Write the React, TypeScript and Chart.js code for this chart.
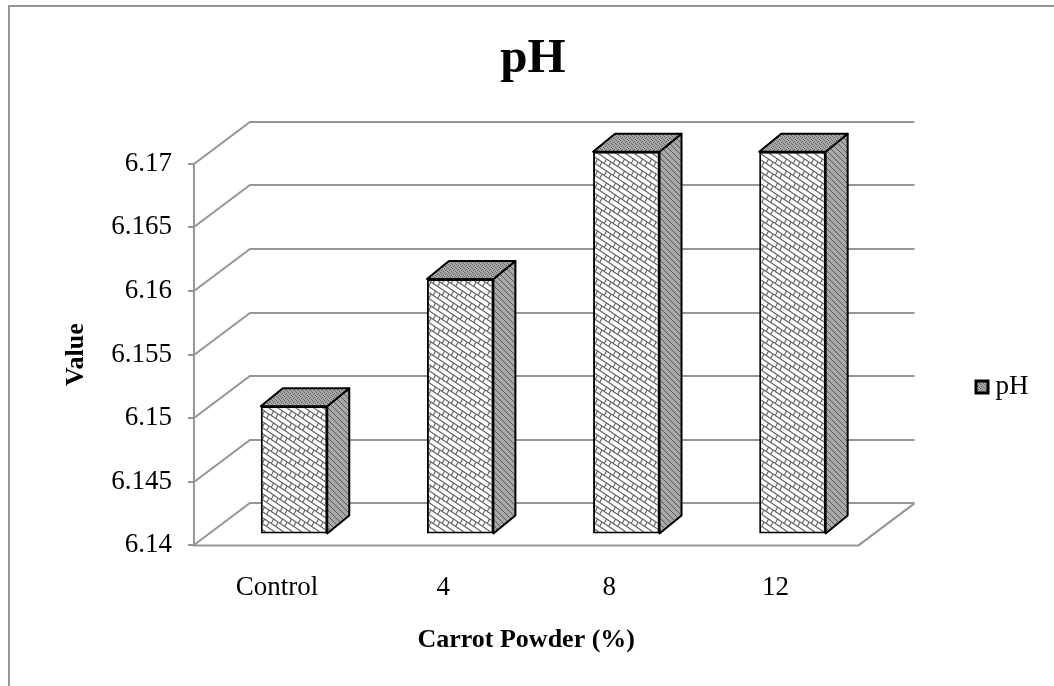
import React, { useEffect, useRef } from "react";
import { Chart, registerables } from "chart.js";

Chart.register(...registerables);

const titleText = "pH";
const categories = ["Control", "4", "8", "12"];
const seriesName = "pH";
const values = [6.15, 6.16, 6.17, 6.17];
const yMin = 6.14;
const yMax = 6.17;
const yStep = 0.005;
const xTitle = "Carrot Powder (%)";
const yTitle = "Value";

const FONT = '"Liberation Serif"';
const GRID = "#969696";
const WALL_DX = 56;
const WALL_DY = -42;
const BAR_SHIFT_X = 17;
const BAR_SHIFT_Y = -12;
const BAR_DX = 22;
const BAR_DY = -18;
const LEGEND_X = 975;
const LEGEND_Y = 387;
const TITLE_X = 533;

function brickPattern(): CanvasPattern {
  const c = document.createElement("canvas");
  c.width = 9;
  c.height = 12;
  const g = c.getContext("2d")!;
  g.fillStyle = "#ffffff";
  g.fillRect(0, 0, 9, 12);
  g.strokeStyle = "#666666";
  g.lineWidth = 1.2;
  for (const ox of [-9, 0, 9]) {
    for (const oy of [-12, 0, 12]) {
      g.beginPath();
      g.moveTo(ox, oy);
      g.lineTo(ox + 9, oy + 6);
      g.moveTo(ox, oy + 6);
      g.lineTo(ox + 9, oy + 12);
      g.moveTo(ox + 2.25, oy + 7.5);
      g.lineTo(ox + 4.5, oy + 3);
      g.moveTo(ox + 6.75, oy + 10.5);
      g.lineTo(ox + 9, oy + 6);
      g.stroke();
    }
  }
  return g.createPattern(c, "repeat")!;
}

function sidePattern(): CanvasPattern {
  const c = document.createElement("canvas");
  c.width = 6;
  c.height = 6;
  const g = c.getContext("2d")!;
  g.fillStyle = "#a8a8a8";
  g.fillRect(0, 0, 6, 6);
  g.strokeStyle = "#5a5a5a";
  g.lineWidth = 1;
  g.beginPath();
  g.moveTo(-1, 1);
  g.lineTo(5, 7);
  g.moveTo(2, -2);
  g.lineTo(8, 4);
  g.stroke();
  return g.createPattern(c, "repeat")!;
}

function topPattern(): CanvasPattern {
  const c = document.createElement("canvas");
  c.width = 4;
  c.height = 4;
  const g = c.getContext("2d")!;
  g.fillStyle = "#a8a8a8";
  g.fillRect(0, 0, 4, 4);
  g.fillStyle = "#626262";
  g.fillRect(0, 0, 1, 1);
  g.fillRect(2, 1, 1, 1);
  g.fillRect(1, 2, 1, 1);
  g.fillRect(3, 3, 1, 1);
  return g.createPattern(c, "repeat")!;
}

function poly(ctx: CanvasRenderingContext2D, pts: number[][], fill: any) {
  ctx.beginPath();
  pts.forEach((p, i) => (i ? ctx.lineTo(p[0], p[1]) : ctx.moveTo(p[0], p[1])));
  ctx.closePath();
  ctx.fillStyle = fill;
  ctx.fill();
  ctx.strokeStyle = "#000000";
  ctx.lineWidth = 2;
  ctx.lineJoin = "round";
  ctx.stroke();
}

const pseudo3d = {
  id: "pseudo3d",
  afterLayout(chart: any) {
    const l = chart.legend;
    if (l) {
      const dx = LEGEND_X - l.options.labels.padding - l.left;
      const dy = LEGEND_Y - (l.top + l.bottom) / 2;
      l.left += dx;
      l.right += dx;
      l.top += dy;
      l.bottom += dy;
    }
    const t = chart.titleBlock;
    if (t) {
      const dx = TITLE_X - (t.left + t.right) / 2;
      t.left += dx;
      t.right += dx;
    }
  },
  beforeDraw(chart: any) {
    const { ctx, canvas } = chart;
    ctx.save();
    ctx.strokeStyle = GRID;
    ctx.lineWidth = 2;
    ctx.beginPath();
    ctx.moveTo(9, canvas.height + 4);
    ctx.lineTo(9, 6);
    ctx.lineTo(canvas.width + 4, 6);
    ctx.stroke();
    ctx.restore();
  },
  beforeDatasetsDraw(chart: any) {
    const { ctx, chartArea, scales } = chart;
    const { left, right, bottom, top } = chartArea;
    ctx.save();
    ctx.strokeStyle = GRID;
    ctx.lineWidth = 2;
    ctx.beginPath();
    for (const t of scales.y.ticks) {
      const y = Math.round(scales.y.getPixelForValue(t.value));
      ctx.moveTo(left - 6, y);
      ctx.lineTo(left, y);
      ctx.lineTo(left + WALL_DX, y + WALL_DY);
      ctx.lineTo(right + WALL_DX, y + WALL_DY);
    }
    ctx.moveTo(left, top);
    ctx.lineTo(left, bottom);
    ctx.lineTo(right, bottom);
    ctx.lineTo(right + WALL_DX, bottom + WALL_DY);
    ctx.stroke();
    ctx.restore();

    ctx.save();
    const bars = chart.getDatasetMeta(0).data;
    const side = sidePattern();
    const topFace = topPattern();
    const base = scales.y.getPixelForValue(yMin) + BAR_SHIFT_Y;
    for (const b of bars) {
      const p = b.getProps(["x", "y", "width"], true);
      const x0 = p.x - p.width / 2 + BAR_SHIFT_X;
      const x1 = p.x + p.width / 2 + BAR_SHIFT_X;
      const yT = p.y + BAR_SHIFT_Y;
      poly(ctx, [[x1, yT], [x1 + BAR_DX, yT + BAR_DY], [x1 + BAR_DX, base + BAR_DY], [x1, base]], side);
      poly(ctx, [[x0, yT], [x0 + BAR_DX, yT + BAR_DY], [x1 + BAR_DX, yT + BAR_DY], [x1, yT]], topFace);
    }
    ctx.restore();
    ctx.save();
    ctx.translate(BAR_SHIFT_X, BAR_SHIFT_Y);
  },
  afterDatasetsDraw(chart: any) {
    chart.ctx.restore();
  },
  afterDraw(chart: any) {
    const { ctx } = chart;
    ctx.save();
    ctx.fillStyle = topPattern();
    ctx.fillRect(LEGEND_X, LEGEND_Y - 7, 14, 14);
    ctx.strokeStyle = "#000000";
    ctx.lineWidth = 3;
    ctx.strokeRect(LEGEND_X + 1, LEGEND_Y - 6, 12, 12);
    ctx.restore();
  },
};

export default function App() {
  const ref = useRef<HTMLCanvasElement>(null);
  useEffect(() => {
    const brick = brickPattern();
    const chart = new Chart(ref.current!, {
      type: "bar",
      data: {
        labels: categories,
        datasets: [
          {
            label: seriesName,
            data: values,
            base: yMin,
            backgroundColor: brick,
            borderColor: "#000000",
            borderWidth: 2,
            borderSkipped: false,
            clip: false,
            barPercentage: 0.4,
            categoryPercentage: 1,
          },
        ],
      },
      options: {
        animation: false,
        responsive: false,
        layout: { padding: { top: 0, right: 126, bottom: 30, left: 61 } },
        plugins: {
          tooltip: { enabled: false },
          title: {
            display: true,
            text: titleText,
            color: "#000000",
            font: { family: FONT, size: 49, weight: "bold" },
            padding: { top: 30, bottom: 75 },
          },
          legend: {
            position: "right",
            labels: {
              color: "#000000",
              font: { family: FONT, size: 27 },
              boxWidth: 7,
              boxHeight: 13,
              padding: 6,
              generateLabels: (c: any) =>
                Chart.defaults.plugins.legend.labels.generateLabels(c).map((it: any) => ({
                  ...it,
                  fillStyle: "rgba(0,0,0,0)",
                  strokeStyle: "rgba(0,0,0,0)",
                  lineWidth: 0,
                })),
            },
          },
        },
        scales: {
          x: {
            grid: { display: false },
            border: { display: false },
            ticks: { color: "#000000", font: { family: FONT, size: 27 }, padding: 18 },
            title: {
              display: true,
              text: xTitle,
              color: "#000000",
              font: { family: FONT, size: 26, weight: "bold" },
              padding: { top: 3, bottom: 0 },
            },
          },
          y: {
            min: yMin,
            max: yMax,
            grid: { display: false },
            border: { display: false },
            ticks: {
              stepSize: yStep,
              color: "#000000",
              font: { family: FONT, size: 27 },
              padding: 14,
              callback: (v: any) => String(Number(Number(v).toFixed(3))),
            },
            title: {
              display: true,
              text: yTitle,
              color: "#000000",
              font: { family: FONT, size: 26, weight: "bold" },
              padding: { top: 0, bottom: 5 },
            },
          },
        },
      } as any,
      plugins: [pseudo3d],
    });
    return () => chart.destroy();
  }, []);
  return (
    <canvas
      ref={ref}
      width={1054}
      height={686}
      style={{ position: "fixed", left: 0, top: 0, display: "block", background: "#ffffff" }}
    />
  );
}
